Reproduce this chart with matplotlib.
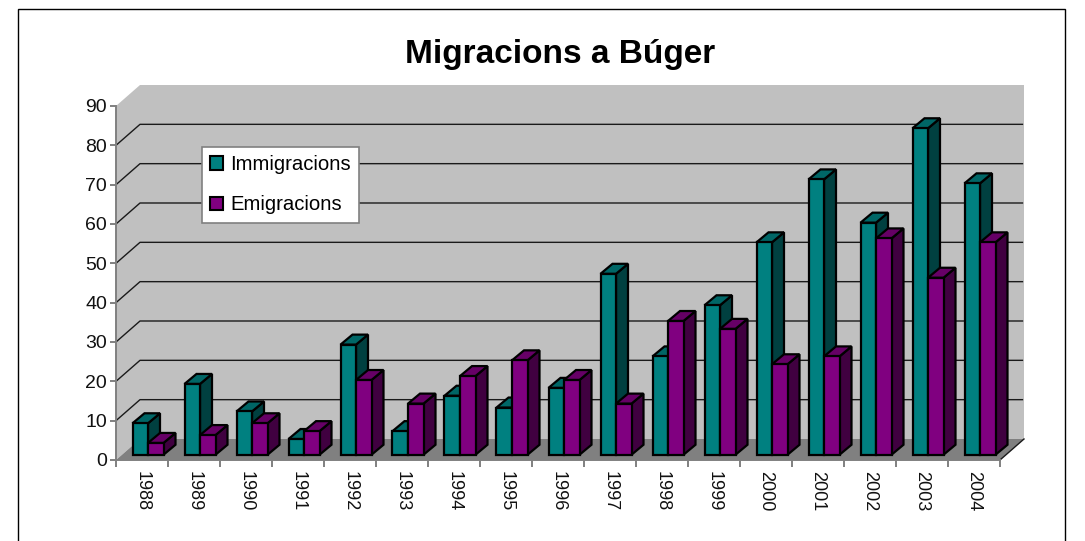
import matplotlib
matplotlib.use('Agg')
import matplotlib.pyplot as plt
import numpy as np
from matplotlib.patches import Patch, Polygon, Rectangle

YEARS = list(range(1988, 2005))
IMMIGRACIONS = [8, 18, 11, 4, 28, 6, 15, 12, 17, 46, 25, 38, 54, 70, 59, 83, 69]
EMIGRACIONS = [3, 5, 8, 6, 19, 13, 20, 24, 19, 13, 34, 32, 23, 25, 55, 45, 54]
Y_TICKS = list(range(0, 100, 10))

TEAL = ('#008080', '#006666', '#004040')  # front, top, side
PURPLE = ('#800080', '#660066', '#400040')

W, H = 1085, 541
DEPTH_X, DEPTH_Y = 24 / 52, 21 / 3.933  # chart depth, in category / value units
BAR_DX, BAR_DY = 12 / 52, 10 / 3.933  # depth of one column
BAR_W = 15.5 / 52

plt.rcParams['font.family'] = ['Liberation Sans', 'DejaVu Sans']


def poly(ax, pts, color, **kw):
    ax.add_patch(Polygon(pts, closed=True, facecolor=color, clip_on=False, **kw))


def column(ax, x, h, colors):
    """One 3D column; x is the left edge of its front face."""
    y0 = DEPTH_Y * 0.25
    x += DEPTH_X * 0.25
    y1 = y0 + h
    style = dict(edgecolor='black', linewidth=1.6, joinstyle='miter', zorder=3)
    poly(ax, [(x + BAR_W, y0), (x + BAR_W + BAR_DX, y0 + BAR_DY),
              (x + BAR_W + BAR_DX, y1 + BAR_DY), (x + BAR_W, y1)], colors[2], **style)
    poly(ax, [(x, y1), (x + BAR_W, y1), (x + BAR_W + BAR_DX, y1 + BAR_DY),
              (x + BAR_DX, y1 + BAR_DY)], colors[1], **style)
    poly(ax, [(x, y0), (x + BAR_W, y0), (x + BAR_W, y1), (x, y1)], colors[0], **style)


def main():
    fig = plt.figure(figsize=(W / 100, H / 100), dpi=100, facecolor='white')
    ax = fig.add_axes([116 / W, 1 - 460 / H, 884 / W, 354 / H])
    n = len(YEARS)
    ax.set_xlim(0, n)
    ax.set_ylim(0, 90)
    ax.patch.set_visible(False)

    # walls and floor
    top = Y_TICKS[-1]
    poly(ax, [(DEPTH_X, DEPTH_Y), (n + DEPTH_X, DEPTH_Y), (n + DEPTH_X, top + DEPTH_Y),
              (DEPTH_X, top + DEPTH_Y)], '#c0c0c0', edgecolor='none', zorder=1)
    poly(ax, [(0, 0), (DEPTH_X, DEPTH_Y), (DEPTH_X, top + DEPTH_Y), (0, top)],
         '#c0c0c0', edgecolor='none', zorder=1)
    poly(ax, [(0, 0), (n, 0), (n + DEPTH_X, DEPTH_Y), (DEPTH_X, DEPTH_Y)],
         '#808080', edgecolor='none', zorder=1)

    # gridlines run along the side wall and the back wall
    for v in Y_TICKS[1:-1]:
        ax.plot([0, DEPTH_X, n + DEPTH_X - 0.03], [v, v + DEPTH_Y, v + DEPTH_Y],
                color='#1a1a1a', lw=1, clip_on=False, zorder=2)
    ax.plot([n, n + DEPTH_X], [0, DEPTH_Y], color='#1a1a1a', lw=1, clip_on=False, zorder=2)

    for i in range(n):
        mid = i + 0.5
        column(ax, mid - BAR_W, IMMIGRACIONS[i], TEAL)
        column(ax, mid, EMIGRACIONS[i], PURPLE)

    for side in ('top', 'right'):
        ax.spines[side].set_visible(False)
    for side in ('left', 'bottom'):
        ax.spines[side].set_color('#808080')
        ax.spines[side].set_linewidth(1.4)
        ax.spines[side].set_zorder(2.5)

    ax.set_yticks(Y_TICKS)
    ax.set_xticks(np.arange(n + 1))
    ax.set_xticklabels([])
    ax.set_xticks(np.arange(n) + 0.5, minor=True)
    ax.set_xticklabels([str(y) for y in YEARS], minor=True, rotation=270, fontsize=13, color='#111111')
    ax.tick_params(axis='x', which='major', length=5, width=1.4, color='#808080')
    ax.tick_params(axis='x', which='minor', length=0, pad=8)
    ax.tick_params(axis='y', length=4.5, width=1.4, color='#808080', labelsize=14, pad=2, labelcolor='#111111')

    handles = [Patch(facecolor=TEAL[0], edgecolor='black', linewidth=1.5, label='Immigracions'),
               Patch(facecolor=PURPLE[0], edgecolor='black', linewidth=1.5, label='Emigracions')]
    leg = ax.legend(handles=handles, loc='upper left', bbox_to_anchor=(202 / W, 1 - 147 / H),
                    bbox_transform=fig.transFigure, fontsize=14.6, frameon=True, fancybox=False,
                    framealpha=1, edgecolor='#808080', handlelength=0.62, handleheight=0.62,
                    handletextpad=0.36, labelspacing=1.05, borderpad=0.4, borderaxespad=0)
    leg.get_frame().set_linewidth(1.2)
    leg.set_zorder(5)

    fig.text(560 / W, 1 - 54 / H, 'Migracions a Búger', ha='center', va='center',
             fontsize=24, fontweight='bold', color='black')

    # outer chart frame
    fig.add_artist(Rectangle((18 / W, -0.02), 1047 / W, 1 - 9 / H + 0.02, transform=fig.transFigure,
                             facecolor='none', edgecolor='black', linewidth=1))

    fig.savefig('out.png', dpi=100, facecolor='white')


if __name__ == '__main__':
    main()
